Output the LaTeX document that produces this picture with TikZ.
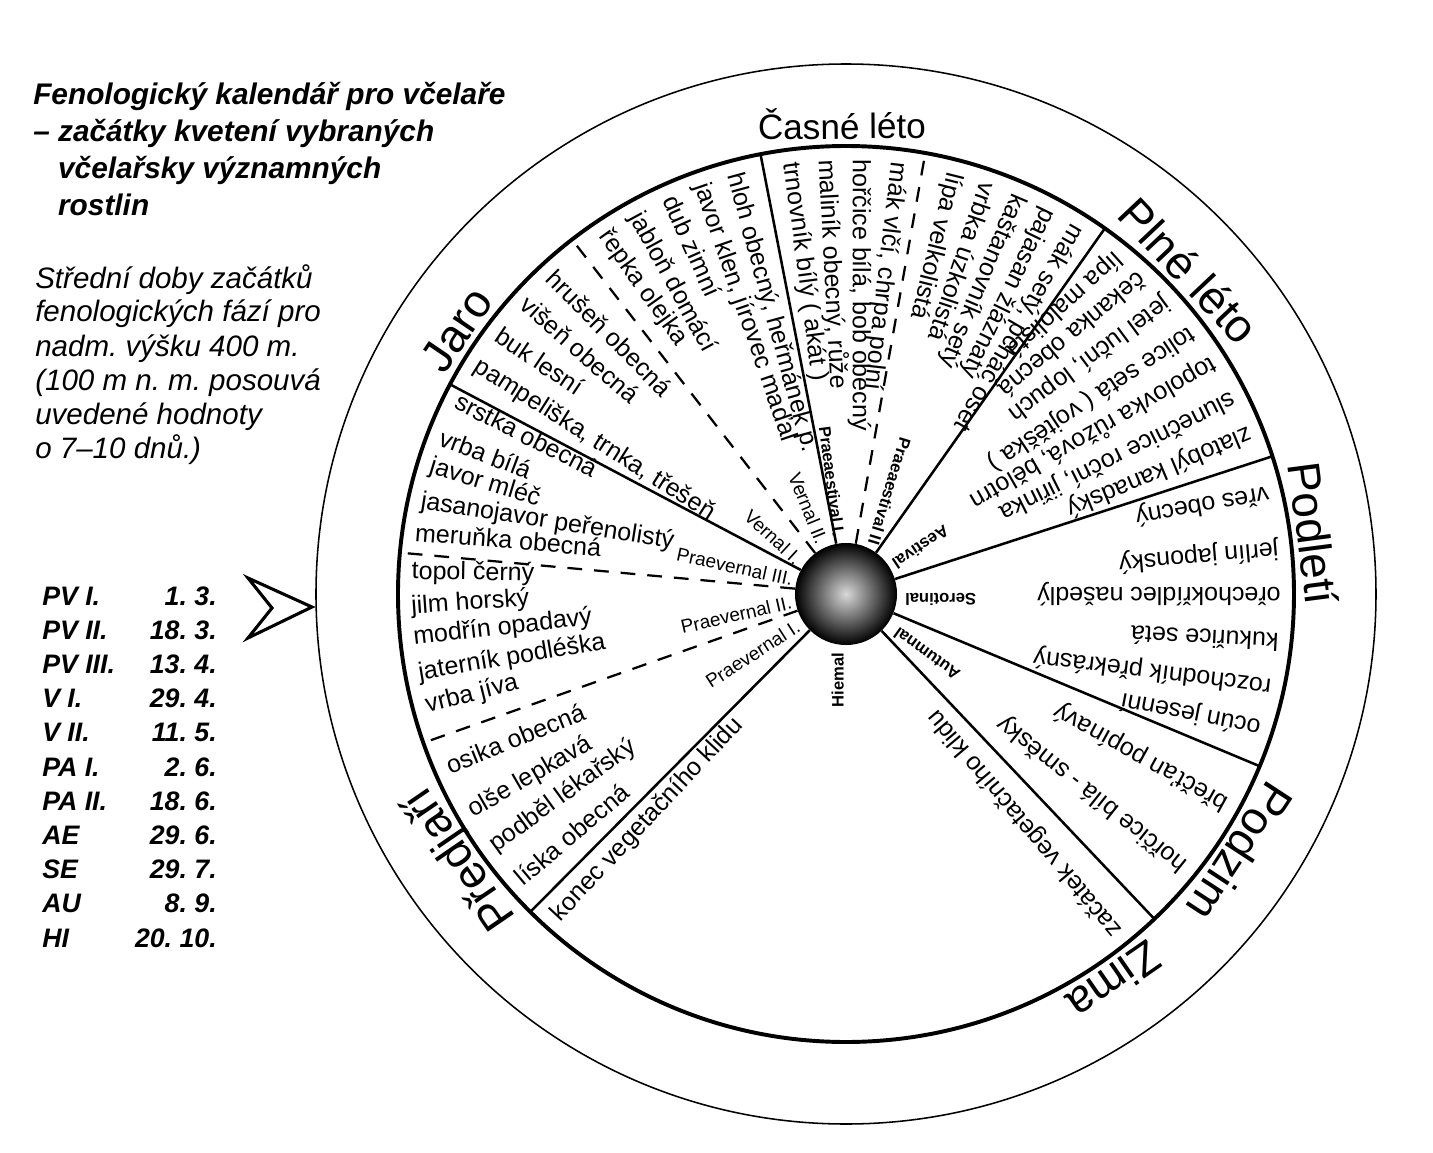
\documentclass[tikz,border=0pt]{standalone}
\usepackage{fontspec}
\setmainfont{Liberation Sans}
\frenchspacing
\begin{document}
\begin{tikzpicture}[x=0.025cm, y=0.025cm,
        plant/.style={anchor=west, inner sep=0pt, text height=0.75em, text depth=0.2em,
            font=\fontsize{17.8}{20}\selectfont},
        phase/.style={anchor=east, inner sep=0pt, text height=0.75em, text depth=0.2em,
            font=\fontsize{13.5}{15}\selectfont},
        phasebold/.style={phase, font=\fontsize{11.8}{13}\selectfont\bfseries},
        season/.style={anchor=base, inner sep=0pt, font=\fontsize{32.7}{36}\selectfont},
        spoke/.style={line width=1.8pt},
        divider/.style={line width=1.6pt, dash pattern=on 10.5pt off 8.5pt},
        heading/.style={anchor=base west, inner sep=0pt, font=\fontsize{21.2}{24}\selectfont\bfseries\itshape},
        note/.style={anchor=base west, inner sep=0pt, font=\fontsize{21}{24}\selectfont\itshape},
        datelab/.style={anchor=base west, inner sep=0pt, font=\fontsize{19}{22}\selectfont\bfseries\itshape},
        dateval/.style={datelab, anchor=base east}]
        \useasboundingbox (-846,-558) rectangle (587,594);
        % wheel
        \draw[line width=1.1pt] (0,0) circle (530);
        \draw[line width=2.8pt] (0,0) circle (448);
        \node[circle, minimum size=2.55cm, inner sep=0pt, inner color=white!85!black, outer color=black] (core) at (0,0) {};
        \foreach \ang in {152.1,225.2,101,54.7,17.9,-22.6,-46.5}
            \draw[spoke] (core.\ang) -- (\ang:448);
        \foreach \ang in {174.7,199.4,127.7,79.8}
            \draw[divider] (core.\ang) -- (\ang:445);
        % seasons
        \node[season, rotate=0.5, font=\fontsize{25}{28}\selectfont] (season-0) at (90.5:455) {Časné léto};
        \foreach \ang/\txt [count=\i] in {43.3/Plné léto, 7.4/Podletí, -33.2/Podzim, -55.3/Zima, 214.4/Předjaří, 145.8/Jaro}
            \node[season, rotate=\ang-90] (season-\i) at (\ang:455) {\txt};
        % phases
        \foreach \pos/\rad/\rot/\txt [count=\i] in {167.5/55/-12.3/Praevernal III., 191.5/55/12.8/Praevernal II.,
                215.7/57/32.8/Praevernal I., 147.7/58/-42.6/Vernal I., 118/56/-68/Vernal II.}
            \node[phase, rotate=\rot] (phase-\i) at (\pos:\rad) {\txt};
        \foreach \pos/\rad/\rot/\txt [count=\i] in {99/58/-82.7/Praeaestival I., 63/56/-107/Praeaestival II,
                33.4/56/-146.3/Aestival, -3/59/180/Serotinal, -35.2/62/144.5/Autumnal, 264/59/90/Hiemal}
            \node[phasebold, rotate=\rot] (phaseb-\i) at (\pos:\rad) {\txt};
        % plants
        \foreach \ang/\rot/\txt [count=\i] in {154.1/-27/srstka obecná, 159.5/-20.7/vrba bílá, 163.3/-17/javor mléč,
                168.1/-9/jasanojavor peřenolistý, 172.5/-4.7/meruňka obecná, 177.5/-1/topol černý,
                182.1/4/jilm horský, 186.2/6.5/modřín opadavý, 190.9/9.5/jaterník podléška,
                195.3/14/vrba jíva, 204/22/osika obecná, 210.5/30/olše lepkavá,
                216/36/podběl lékařský, 221.7/40/líska obecná,
                148.6/-32.4/{pampeliška, trnka, třešeň}, 143.8/-34/buk lesní, 138.3/-41.3/višeň obecná,
                133.4/-45/hrušeň obecná, 124.2/-54.5/řepka olejka, 119.4/-61.5/jabloň domácí,
                114.5/-66/dub zimní, 109.9/-71/{javor klen, jírovec maďal}, 105.3/-74.7/{hloh obecný, heřmánek p.},
                97.7/-82.5/trnovník bílý ( akát ), 93.1/-87/{maliník obecný, růže},
                88.6/-90/{hořčice bílá, bob obecný}, 83.5/-96.5/{mák vlčí, chrpa polní},
                76/-104/lípa velkolistá, 71.4/-108.6/vrbka úzkolistá, 67/-113/kaštanovník setý,
                62.6/-116/pajasan žláznatý, 58.3/-120/{mák setý, pcháč oset},
                51.6/222/lípa malolistá, 47.5/219.5/čekanka obecná, 42.8/216.5/{jetel luční, lopuch},
                37.5/213.5/tolice setá ( vojtěška ), 32.6/210/{topolovka růžová, bělotrn},
                27.2/206.5/{slunečnice roční, jiřinka}, 22.1/202.8/zlatobýl kanadský,
                13.8/190/vřes obecný, 6.3/185/jerlín japonský, 0.3/180/ořechokřídlec našedlý,
                -5.7/177/kukuřice setá, -11.8/173/rozchodník překrásný, -17.4/169/ocún jesenní,
                -28.5/151/břečťan popínavý, -38.5/141.5/hořčice bílá - směsky,
                -51/130/začátek vegetačního klidu, 228.5/47/konec vegetačního klidu}
            \node[plant, rotate=\rot] (plant-\i) at (\ang:435) {\txt};
        % legend
        \foreach \txt [count=\i] in {Fenologický kalendář pro včelaře, – začátky kvetení vybraných,
                \hphantom{– }včelařsky významných, \hphantom{– }rostlin}
            \node[heading] (title-\i) at (-813, 526-37*\i) {\txt};
        \foreach \txt [count=\i] in {Střední doby začátků, fenologických fází pro, nadm. výšku 400 m.,
                {(100 m n. m. posouvá}, uvedené hodnoty, {o 7–10 dnů.)}}
            \node[note] (note-\i) at (-811, 340-34*\i) {\txt};
        \foreach \lab/\val [count=\i] in {PV I./1. 3., PV II./18. 3., PV III./13. 4., V I./29. 4., V II./11. 5.,
                PA I./2. 6., PA II./18. 6., AE/29. 6., SE/29. 7., AU/8. 9., HI/20. 10.}
        {
            \node[datelab] (lab-\i) at (-804, 23.2-34.2*\i) {\lab};
            \node[dateval] (val-\i) at (-629, 23.2-34.2*\i) {\val};
        }
        \draw[line width=2.2pt, line join=miter] (-598,16) -- (-534,-13) -- (-598,-44) -- (-574,-14) -- cycle;
    \end{tikzpicture}
\end{document}
